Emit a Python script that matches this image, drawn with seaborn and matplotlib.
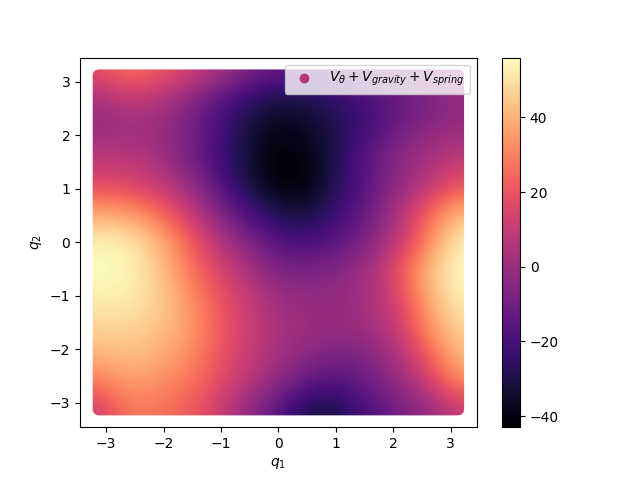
import numpy as np
import pandas as pd
import seaborn as sns
import matplotlib.pyplot as plt
from matplotlib.cm import ScalarMappable
from matplotlib.colors import Normalize
from matplotlib.patches import FancyBboxPatch

q1_values = [-3.14, -2.62, -2.09, -1.57, -1.05, -0.52, 0.0, 0.52, 1.05, 1.57, 2.09, 2.62, 3.14]
q2_values = [3.14, 2.62, 2.09, 1.57, 1.05, 0.52, 0.0, -0.52, -1.05, -1.57, -2.09, -2.62, -3.14]

# potential, one row per q2 value, top to bottom
row_a = [18, 27, 22, 14, 4, -8, -13, -15, -14, -10, -6, -2, 3]
row_b = [1, 8, 5, -5, -17, -27, -33, -31, -26, -20, -14, -8, -3]
row_c = [-1, 1, 0, -8, -20, -32, -39, -36, -29, -21, -10, -4, 0]
row_d = [8, 7, 3, -9, -21, -34, -43, -40, -28, -14, -3, 3, 9]
row_e = [17, 16, 10, 0, -16, -31, -42, -41, -27, -15, -3, 8, 20]
row_f = [38, 36, 27, 12, -5, -20, -30, -32, -22, -11, 5, 25, 42]
row_g = [54, 53, 42, 24, 7, -6, -18, -20, -16, -6, 8, 31, 54]
row_h = [56, 55, 45, 29, 15, 4, -8, -8, -5, 2, 20, 43, 56]
row_i = [53, 53, 47, 34, 21, 10, 1, -2, -2, 3, 14, 39, 54]
row_j = [47, 48, 44, 37, 22, 12, 3, 0, -1, 2, 11, 34, 48]
row_k = [41, 43, 40, 33, 21, 11, 2, -3, -8, -6, 5, 23, 43]
row_l = [28, 36, 33, 28, 18, 7, -3, -15, -18, -10, -2, 12, 32]
row_m = [12, 28, 27, 22, 12, -3, -17, -32, -30, -19, -10, -2, 10]

V_rows = [row_a, row_b, row_c, row_d, row_e, row_f, row_g, row_h, row_i, row_j, row_k, row_l, row_m]
V = np.array(V_rows, dtype=float)

q1_grid, q2_grid = np.meshgrid(q1_values, q2_values)
df = pd.DataFrame({"q1": q1_grid.ravel(), "q2": q2_grid.ravel(), "V": V.ravel()})

norm = Normalize(vmin=-43, vmax=56)

fig, ax = plt.subplots(figsize=(6.4, 4.8), dpi=100)

sns.scatterplot(data=df, x="q1", y="q2", hue="V", palette="magma", hue_norm=norm,
                s=36, linewidth=0, legend=False, zorder=1, ax=ax)

# smooth surface over the points
half_cell = 0.2617
img = ax.imshow(V, cmap="magma", norm=norm, interpolation="bicubic", aspect="auto", zorder=2,
                extent=[-3.14 - half_cell, 3.14 + half_cell, -3.14 - half_cell, 3.14 + half_cell])
clip = FancyBboxPatch((-3.14, -3.14), 6.28, 6.28, boxstyle="round,pad=0.093,rounding_size=0.12",
                      transform=ax.transData, fc="none", ec="none")
img.set_clip_path(clip)
ax.set_xlim(-3.454, 3.454)
ax.set_ylim(-3.454, 3.454)

ax.scatter([], [], color=plt.get_cmap("magma")(0.5),
           label=r"$V_{\theta} + V_{gravity} + V_{spring}$")
ax.legend(loc="upper right")

ax.set_xlabel(r"$q_1$")
ax.set_ylabel(r"$q_2$")

fig.colorbar(ScalarMappable(norm=norm, cmap="magma"), ax=ax)

fig.savefig("out.png", dpi=100)
